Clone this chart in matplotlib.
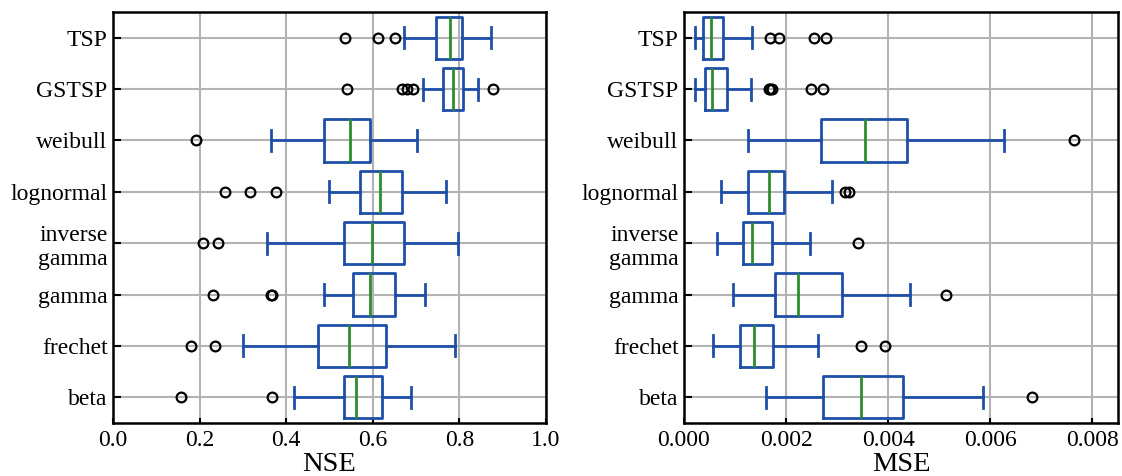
import matplotlib
matplotlib.use("Agg")
import matplotlib.pyplot as plt

plt.rcParams['font.family'] = ['Liberation Serif', 'DejaVu Serif']

# categories bottom to top
names = ["beta", "frechet", "gamma", "inverse\ngamma", "lognormal", "weibull", "GSTSP", "TSP"]

# NSE stats: whislo, q1, med, q3, whishi
nse_lo  = [0.419, 0.301, 0.488, 0.356, 0.498, 0.365, 0.715, 0.673]
nse_q1  = [0.534, 0.473, 0.555, 0.533, 0.571, 0.487, 0.763, 0.745]
nse_med = [0.561, 0.545, 0.593, 0.598, 0.616, 0.548, 0.785, 0.778]
nse_q3  = [0.622, 0.630, 0.651, 0.672, 0.667, 0.594, 0.808, 0.805]
nse_hi  = [0.688, 0.789, 0.720, 0.796, 0.770, 0.702, 0.844, 0.873]
nse_fl  = [[0.156, 0.367], [0.181, 0.236], [0.230, 0.365, 0.368], [0.207, 0.242],
           [0.258, 0.317, 0.376], [0.192], [0.541, 0.668, 0.680, 0.692, 0.877],
           [0.535, 0.613, 0.652]]

# MSE stats
mse_lo  = [0.001605, 0.000565, 0.000964, 0.000647, 0.000716, 0.00126, 0.00022, 0.00022]
mse_q1  = [0.00272, 0.001102, 0.001791, 0.001157, 0.001247, 0.002679, 0.00042, 0.000365]
mse_med = [0.003464, 0.00137, 0.002238, 0.001336, 0.001667, 0.003547, 0.000558, 0.000523]
mse_q3  = [0.004291, 0.001736, 0.003085, 0.001715, 0.001949, 0.004366, 0.000847, 0.000764]
mse_hi  = [0.005847, 0.002624, 0.004428, 0.002466, 0.0029, 0.006267, 0.001309, 0.001336]
mse_fl  = [[0.006825], [0.003471, 0.003933], [0.005124], [0.003416],
           [0.003154, 0.003237], [0.007631], [0.00166, 0.00168, 0.00172, 0.002486, 0.002713],
           [0.001687, 0.001866, 0.002541, 0.002789]]

blue = "#1f4ea8"
green = "#2e8b2e"


def make_stats(lo, q1, med, q3, hi, fl):
    stats = []
    for i in range(len(names)):
        stats.append(dict(whislo=lo[i], q1=q1[i], med=med[i], q3=q3[i],
                          whishi=hi[i], fliers=fl[i], label=names[i]))
    return stats


fig = plt.figure(figsize=(11.22, 4.76), dpi=100)
ax1 = fig.add_axes([113 / 1122, 53 / 476, 433 / 1122, 411 / 476])
ax2 = fig.add_axes([684 / 1122, 53 / 476, 434 / 1122, 411 / 476])

panels = [
    (ax1, make_stats(nse_lo, nse_q1, nse_med, nse_q3, nse_hi, nse_fl), "NSE",
     (0, 1.0), [0.0, 0.2, 0.4, 0.6, 0.8, 1.0], "%.1f"),
    (ax2, make_stats(mse_lo, mse_q1, mse_med, mse_q3, mse_hi, mse_fl), "MSE",
     (0, 0.0085), [0.0, 0.002, 0.004, 0.006, 0.008], "%.3f"),
]

for ax, stats, lab, xlim, xt, fmt in panels:
    ax.grid(True, color="#b3b3b3", linewidth=1.5)
    ax.set_axisbelow(True)
    ax.bxp(stats, vert=False, widths=0.82,
           boxprops=dict(color=blue, linewidth=2),
           whiskerprops=dict(color=blue, linewidth=2),
           capprops=dict(color=blue, linewidth=2),
           medianprops=dict(color=green, linewidth=2),
           flierprops=dict(marker="o", markerfacecolor="none", markeredgecolor="black",
                           markersize=7, markeredgewidth=1.6))
    ax.set_xlim(*xlim)
    ax.set_ylim(0.5, 8.5)
    ax.set_xticks(xt)
    ax.set_xticklabels([fmt % v for v in xt])
    ax.set_xlabel(lab, fontsize=20.5, va="baseline")
    ax.xaxis.set_label_coords(0.5, -0.118)
    ax.tick_params(axis="y", direction="in", labelsize=17, width=1.5, length=6, pad=4)
    ax.tick_params(axis="x", direction="in", labelsize=17, width=1.5, length=3.5, pad=5)
    for s in ax.spines.values():
        s.set_linewidth(1.8)

fig.savefig("out.png", dpi=100)
